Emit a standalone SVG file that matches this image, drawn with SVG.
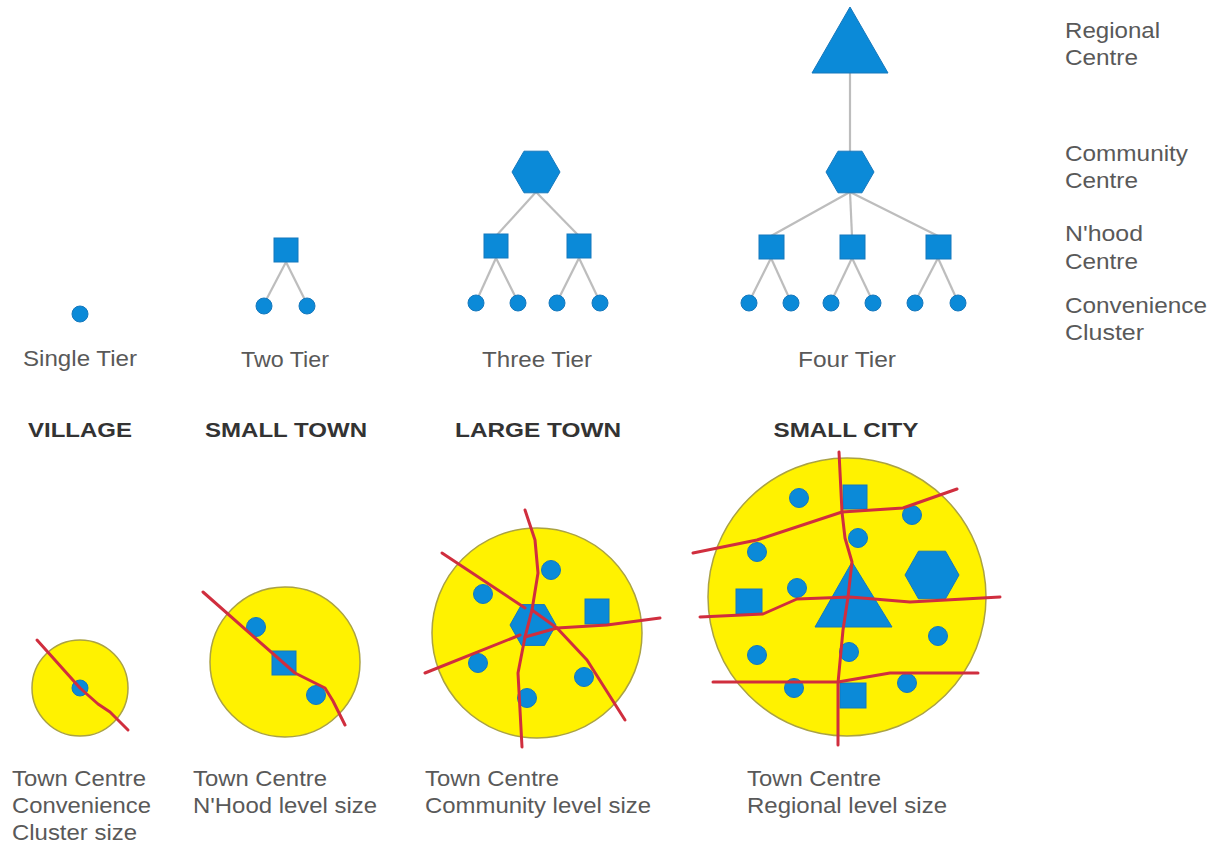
<svg xmlns="http://www.w3.org/2000/svg" width="1215" height="843" viewBox="0 0 1215 843">
<style>
.b{fill:#0b8ad8;stroke:#1578bd;stroke-width:1}
.c{stroke:#bdbdbd;stroke-width:2.2;fill:none}
.t{font-family:"Liberation Sans",Arial,sans-serif;font-size:22px;fill:#595959}
.h{font-family:"Liberation Sans",Arial,sans-serif;font-size:21px;font-weight:bold;fill:#333}
.y{fill:#fff200;stroke:#aaa244;stroke-width:1.5}
.r{fill:none;stroke:#d02e3e;stroke-width:3;stroke-linejoin:round;stroke-linecap:round}
</style>
<rect width="1215" height="843" fill="#fff"/>

<g id="connectors">
  <line class="c" x1="286" y1="262" x2="264" y2="304"/>
  <line class="c" x1="286" y1="262" x2="307" y2="304"/>
  <line class="c" x1="536" y1="192" x2="496" y2="236"/>
  <line class="c" x1="536" y1="192" x2="579" y2="236"/>
  <line class="c" x1="496" y1="258" x2="476" y2="302"/>
  <line class="c" x1="496" y1="258" x2="518" y2="302"/>
  <line class="c" x1="579" y1="258" x2="557" y2="302"/>
  <line class="c" x1="579" y1="258" x2="600" y2="302"/>
  <line class="c" x1="850" y1="73" x2="850" y2="152"/>
  <line class="c" x1="850" y1="192" x2="771" y2="236"/>
  <line class="c" x1="850" y1="192" x2="852" y2="236"/>
  <line class="c" x1="850" y1="192" x2="938" y2="236"/>
  <line class="c" x1="771" y1="258" x2="749" y2="302"/>
  <line class="c" x1="771" y1="258" x2="791" y2="302"/>
  <line class="c" x1="852" y1="258" x2="831" y2="302"/>
  <line class="c" x1="852" y1="258" x2="873" y2="302"/>
  <line class="c" x1="938" y1="258" x2="915" y2="302"/>
  <line class="c" x1="938" y1="258" x2="958" y2="302"/>
</g>

<g id="single-tier">
  <circle id="st-c1" class="b" cx="80" cy="314" r="8"/>
  <text class="t" x="80" y="366" text-anchor="middle" textLength="114" lengthAdjust="spacingAndGlyphs">Single Tier</text>
</g>

<g id="two-tier">
  <rect id="tt-n1" class="b" x="274" y="238" width="24" height="24"/>
  <circle id="tt-c1" class="b" cx="264" cy="306" r="8"/>
  <circle id="tt-c2" class="b" cx="307" cy="306" r="8"/>
  <text class="t" x="285" y="367" text-anchor="middle" textLength="88" lengthAdjust="spacingAndGlyphs">Two Tier</text>
</g>

<g id="three-tier">
  <polygon id="th-h1" class="b" points="512,172 524,151.2 548,151.2 560,172 548,192.8 524,192.8"/>
  <rect id="th-n1" class="b" x="484" y="234" width="24" height="24"/>
  <rect id="th-n2" class="b" x="567" y="234" width="24" height="24"/>
  <circle class="b" cx="476" cy="303" r="8"/>
  <circle class="b" cx="518" cy="303" r="8"/>
  <circle class="b" cx="557" cy="303" r="8"/>
  <circle class="b" cx="600" cy="303" r="8"/>
  <text class="t" x="537" y="367" text-anchor="middle" textLength="110" lengthAdjust="spacingAndGlyphs">Three Tier</text>
</g>

<g id="four-tier">
  <polygon id="ft-r1" class="b" points="850,7 888,73 812,73"/>
  <polygon id="ft-h1" class="b" points="826,172 838,151.2 862,151.2 874,172 862,192.8 838,192.8"/>
  <rect class="b" x="759" y="235" width="25" height="24"/>
  <rect class="b" x="840" y="235" width="25" height="24"/>
  <rect class="b" x="926" y="235" width="25" height="24"/>
  <circle class="b" cx="749" cy="303" r="8"/>
  <circle class="b" cx="791" cy="303" r="8"/>
  <circle class="b" cx="831" cy="303" r="8"/>
  <circle class="b" cx="873" cy="303" r="8"/>
  <circle class="b" cx="915" cy="303" r="8"/>
  <circle class="b" cx="958" cy="303" r="8"/>
  <text class="t" x="847" y="367" text-anchor="middle" textLength="98" lengthAdjust="spacingAndGlyphs">Four Tier</text>
</g>

<g id="legend">
  <text class="t" x="1065" y="38" textLength="95" lengthAdjust="spacingAndGlyphs">Regional</text>
  <text class="t" x="1065" y="65" textLength="73" lengthAdjust="spacingAndGlyphs">Centre</text>
  <text class="t" x="1065" y="161" textLength="123" lengthAdjust="spacingAndGlyphs">Community</text>
  <text class="t" x="1065" y="188" textLength="73" lengthAdjust="spacingAndGlyphs">Centre</text>
  <text class="t" x="1065" y="241" textLength="78" lengthAdjust="spacingAndGlyphs">N'hood</text>
  <text class="t" x="1065" y="269" textLength="73" lengthAdjust="spacingAndGlyphs">Centre</text>
  <text class="t" x="1065" y="313" textLength="142" lengthAdjust="spacingAndGlyphs">Convenience</text>
  <text class="t" x="1065" y="340" textLength="79" lengthAdjust="spacingAndGlyphs">Cluster</text>
</g>

<g id="headings">
  <text class="h" x="80" y="437" text-anchor="middle" textLength="104" lengthAdjust="spacingAndGlyphs">VILLAGE</text>
  <text class="h" x="286" y="437" text-anchor="middle" textLength="162" lengthAdjust="spacingAndGlyphs">SMALL TOWN</text>
  <text class="h" x="538" y="437" text-anchor="middle" textLength="166" lengthAdjust="spacingAndGlyphs">LARGE TOWN</text>
  <text class="h" x="846" y="437" text-anchor="middle" textLength="145" lengthAdjust="spacingAndGlyphs">SMALL CITY</text>
</g>

<g id="village">
  <circle class="y" cx="80" cy="688" r="48"/>
  <circle class="b" cx="80" cy="688" r="8"/>
  <polyline class="r" points="37,640 80,688 98,704 110,712 128,730"/>
  <text class="t" x="12" y="786" textLength="134" lengthAdjust="spacingAndGlyphs">Town Centre</text>
  <text class="t" x="12" y="813" textLength="139" lengthAdjust="spacingAndGlyphs">Convenience</text>
  <text class="t" x="12" y="840" textLength="125" lengthAdjust="spacingAndGlyphs">Cluster size</text>
</g>

<g id="small-town">
  <circle class="y" cx="285" cy="662" r="75"/>
  <circle class="b" cx="256" cy="627" r="9.5"/>
  <rect class="b" x="272" y="651" width="24" height="24"/>
  <circle class="b" cx="316" cy="695" r="9.5"/>
  <polyline class="r" points="203,592 295,673 325,688 333,701 345,725"/>
  <text class="t" x="193" y="786" textLength="134" lengthAdjust="spacingAndGlyphs">Town Centre</text>
  <text class="t" x="193" y="813" textLength="184" lengthAdjust="spacingAndGlyphs">N'Hood level size</text>
</g>

<g id="large-town">
  <circle class="y" cx="537" cy="633" r="105"/>
  <circle class="b" cx="483" cy="594" r="9.5"/>
  <circle class="b" cx="551" cy="570" r="9.5"/>
  <circle class="b" cx="478" cy="663" r="9.5"/>
  <circle class="b" cx="527" cy="698" r="9.5"/>
  <circle class="b" cx="584" cy="677" r="9.5"/>
  <rect class="b" x="585" y="599" width="24" height="25"/>
  <polygon class="b" points="510,625 521.5,604.6 544.5,604.6 556,625 544.5,645.4 521.5,645.4"/>
  <polygon class="r" points="532,610 557,628 525,637"/>
  <polyline class="r" points="532,610 538,573 535,540 525,510"/>
  <polyline class="r" points="525,608 442,553"/>
  <polyline class="r" points="557,628 607,625 660,618"/>
  <polyline class="r" points="557,628 587,660 625,720"/>
  <polyline class="r" points="525,637 518,673 522,747"/>
  <polyline class="r" points="520,635 425,673"/>
  <text class="t" x="425" y="786" textLength="134" lengthAdjust="spacingAndGlyphs">Town Centre</text>
  <text class="t" x="425" y="813" textLength="226" lengthAdjust="spacingAndGlyphs">Community level size</text>
</g>

<g id="small-city">
  <circle class="y" cx="847" cy="597" r="139"/>
  <circle class="b" cx="799" cy="498" r="9.5"/>
  <circle class="b" cx="912" cy="515" r="9.5"/>
  <circle class="b" cx="858" cy="538" r="9.5"/>
  <circle class="b" cx="757" cy="552" r="9.5"/>
  <circle class="b" cx="797" cy="588" r="9.5"/>
  <circle class="b" cx="938" cy="636" r="9.5"/>
  <circle class="b" cx="757" cy="655" r="9.5"/>
  <circle class="b" cx="849" cy="652" r="9.5"/>
  <circle class="b" cx="794" cy="688" r="9.5"/>
  <circle class="b" cx="907" cy="683" r="9.5"/>
  <rect class="b" x="843" y="485" width="24" height="24"/>
  <rect class="b" x="736" y="589" width="26" height="25"/>
  <rect class="b" x="840" y="683" width="26" height="25"/>
  <polygon class="b" points="852,562 892,627 815,627"/>
  <polygon class="b" points="905,575 918.5,551.2 945.5,551.2 959,575 945.5,598.8 918.5,598.8"/>
  <polyline class="r" points="839,452 842,512 845,538 852,562 848,597 843,630 838,683 838,745"/>
  <polyline class="r" points="693,553 757,540 842,512 903,508 957,489"/>
  <polyline class="r" points="700,617 763,614 797,599 850,597 910,602 1000,597"/>
  <polyline class="r" points="713,682 838,682 890,673 978,673"/>
  <text class="t" x="747" y="786" textLength="134" lengthAdjust="spacingAndGlyphs">Town Centre</text>
  <text class="t" x="747" y="813" textLength="200" lengthAdjust="spacingAndGlyphs">Regional level size</text>
</g>
</svg>
